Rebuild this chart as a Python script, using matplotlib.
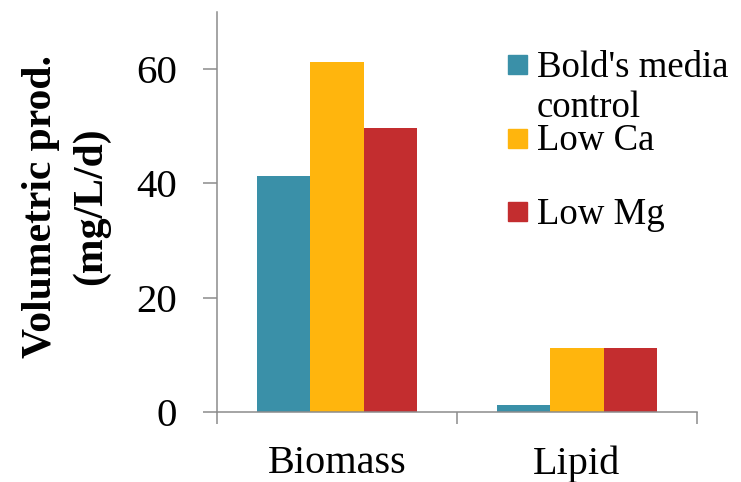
import numpy as np
import matplotlib.pyplot as plt
from matplotlib.patches import Rectangle

plt.rcParams['font.family'] = ['Liberation Serif', 'DejaVu Serif']

categories = ['Biomass', 'Lipid']
series = ["Bold's media control", 'Low Ca', 'Low Mg']
legend_lines = [["Bold's media", 'control'], ['Low Ca'], ['Low Mg']]
values = [
    [41.2, 1.2],    # Bold's media control
    [61.2, 11.1],   # Low Ca
    [49.6, 11.1],   # Low Mg
]
colors = ['#3A90A8', '#FFB50D', '#C32D2F']
yticks = [0, 20, 40, 60]

fig = plt.figure(figsize=(7.41, 4.82), dpi=100)
ax = fig.add_axes([217 / 741, 1 - 411.7 / 482, 480 / 741, 399.7 / 482])

x = np.arange(len(categories))
w = 0.223
for i, (vals, c) in enumerate(zip(values, colors)):
    ax.bar(x + (i - 1) * w, vals, width=w, color=c, edgecolor='none', zorder=2)

ax.set_xlim(-0.5, 1.5)
ax.set_ylim(0, 70)
ax.set_yticks(yticks)
ax.set_xticks([-0.5, 0.5, 1.5])
ax.set_xticklabels([])
ax.set_xticks(x, minor=True)
ax.set_xticklabels(categories, minor=True)

gray = '#8C8C8C'
for s in ['top', 'right']:
    ax.spines[s].set_visible(False)
for s in ['left', 'bottom']:
    ax.spines[s].set_color(gray)
    ax.spines[s].set_linewidth(1.1)
ax.tick_params(axis='y', length=10, width=1.1, color=gray, labelsize=29.5, pad=19)
ax.tick_params(axis='x', which='major', length=8.5, width=1.1, color=gray)
ax.tick_params(axis='x', which='minor', length=0, labelsize=29, pad=24)

fig.text(66 / 741, 1 - 206 / 482, 'Volumetric prod.\n(mg/L/d)', rotation=90,
         ha='center', va='center', multialignment='center',
         fontsize=30, fontweight='bold', linespacing=1.38)

# legend drawn as squares with text beside them
box_y = [64, 138, 212]
base_y = [[77, 117], [150], [224]]
for c, lines, by, bl in zip(colors, legend_lines, box_y, base_y):
    fig.patches.append(Rectangle((508 / 741, 1 - (by + 9.5) / 482), 19 / 741, 19 / 482,
                                 transform=fig.transFigure, color=c))
    for txt, yb in zip(lines, bl):
        fig.text(537 / 741, 1 - yb / 482, txt, ha='left', va='baseline', fontsize=26.5)

fig.savefig('out.png', dpi=100)
